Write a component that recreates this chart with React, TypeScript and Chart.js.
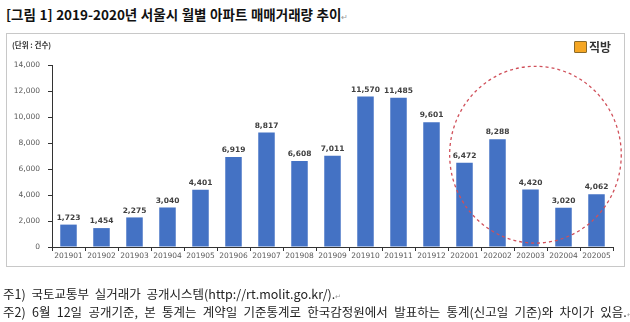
import React, { useEffect, useRef } from "react";
import { Chart, registerables } from "chart.js";

Chart.register(...registerables);

const categories = [
  "201901", "201902", "201903", "201904", "201905", "201906", "201907", "201908", "201909",
  "201910", "201911", "201912", "202001", "202002", "202003", "202004", "202005",
];
const transactions = [1723, 1454, 2275, 3040, 4401, 6919, 8817, 6608, 7011, 11570, 11485, 9601, 6472, 8288, 4420, 3020, 4062];
const yTicks = [0, 2000, 4000, 6000, 8000, 10000, 12000, 14000];

// highlight ellipse, expressed in data units
const highlightCenterIndex = 14.15;
const highlightHalfWidthCategories = 2.6;
const highlightTopValue = 13900;
const highlightBottomValue = 300;

const title = "[그림 1] 2019-2020년 서울시 월별 아파트 매매거래량 추이";
const unitLabel = "(단위 : 건수)";
const brand = "직방";
const note1 = "주1) 국토교통부 실거래가 공개시스템(http://rt.molit.go.kr/).";
const note2 = "주2) 6월 12일 공개기준, 본 통계는 계약일 기준통계로 한국감정원에서 발표하는 통계(신고일 기준)와 차이가 있음.";

const fmt = (v: number) => v.toLocaleString("en-US");

const valueLabels = {
  id: "valueLabels",
  afterDatasetsDraw(chart: any) {
    const ctx = chart.ctx;
    const meta = chart.getDatasetMeta(0);
    ctx.save();
    ctx.font = "bold 7.5px 'DejaVu Sans'";
    ctx.fillStyle = "#404040";
    ctx.textAlign = "center";
    ctx.textBaseline = "bottom";
    meta.data.forEach((bar: any, i: number) => {
      ctx.fillText(fmt(transactions[i]), bar.x, bar.y - 3);
    });
    ctx.restore();
  },
};

const highlight = {
  id: "highlight",
  afterDraw(chart: any) {
    const x = chart.scales.x;
    const y = chart.scales.y;
    const cx = x.getPixelForValue(highlightCenterIndex);
    const step = x.getPixelForValue(1) - x.getPixelForValue(0);
    const rx = step * highlightHalfWidthCategories;
    const top = y.getPixelForValue(highlightTopValue);
    const bottom = y.getPixelForValue(highlightBottomValue);
    const ry = (bottom - top) / 2;
    const ctx = chart.ctx;
    ctx.save();
    ctx.strokeStyle = "#D0505A";
    ctx.lineWidth = 1.3;
    ctx.setLineDash([3, 3]);
    ctx.beginPath();
    ctx.ellipse(cx, (top + bottom) / 2, rx, ry, 0, 0, Math.PI * 2);
    ctx.stroke();
    ctx.restore();
  },
};

export default function App() {
  const ref = useRef<HTMLCanvasElement>(null);
  useEffect(() => {
    const chart = new Chart(ref.current!, {
      type: "bar",
      data: {
        labels: categories,
        datasets: [
          {
            data: transactions,
            backgroundColor: "#4472C4",
            barPercentage: 0.5,
            categoryPercentage: 1,
          },
        ],
      },
      options: {
        animation: false,
        responsive: false,
        maintainAspectRatio: false,
        layout: { padding: { left: 0, right: 17, top: 65, bottom: 55 } },
        plugins: { legend: { display: false }, tooltip: { enabled: false } },
        scales: {
          x: {
            offset: true,
            grid: { display: true, offset: true, drawOnChartArea: false, tickLength: 4, color: "#333" },
            border: { color: "#333", width: 1 },
            ticks: { color: "#595959", font: { family: "DejaVu Sans", size: 7.5 }, padding: 1, maxRotation: 0, autoSkip: false },
            afterFit: (s: any) => { s.height = 20; },
          },
          y: {
            min: 0,
            max: 14000,
            afterBuildTicks: (s: any) => { s.ticks = yTicks.map((v) => ({ value: v })); },
            grid: { display: true, drawOnChartArea: false, tickLength: 4, color: "#333" },
            border: { color: "#333", width: 1 },
            ticks: { color: "#595959", font: { family: "DejaVu Sans", size: 7.5 }, padding: 8, callback: (v: any) => fmt(Number(v)) },
            afterFit: (s: any) => { s.width = 52; },
          },
        },
      },
      plugins: [valueLabels, highlight],
    });
    return () => chart.destroy();
  }, []);

  return (
    <div style={{ position: "absolute", left: 0, top: 0, width: 630, height: 322, background: "#fff", overflow: "hidden", fontFamily: "'Noto Sans CJK KR', sans-serif" }}>
      <div style={{ position: "absolute", left: 6, top: 4, fontSize: 13.5, fontWeight: 700, color: "#111", whiteSpace: "nowrap", wordSpacing: 0.5 }}>
        {title}<span style={{ fontSize: 8, color: "#999", fontWeight: 400 }}>↵</span>
      </div>
      <div style={{ position: "absolute", left: 6, top: 33, width: 617, height: 232, border: "1px solid #c8c8c8" }} />
      <canvas ref={ref} width={630} height={322} style={{ position: "absolute", left: 0, top: 0, width: 630, height: 322 }} />
      <div style={{ position: "absolute", left: 12, top: 39, fontSize: 7.5, fontWeight: 700, color: "#333", whiteSpace: "nowrap" }}>{unitLabel}</div>
      <div style={{ position: "absolute", left: 574, top: 38, display: "flex", alignItems: "center", whiteSpace: "nowrap" }}>
        <span style={{ display: "inline-block", width: 11, height: 10, background: "#F5A623", border: "1px solid #8a6a2a", borderRadius: 1, marginRight: 2 }} />
        <span style={{ fontSize: 12, fontWeight: 700, color: "#333" }}>{brand}</span>
      </div>
      <div style={{ position: "absolute", left: 3, top: 284, fontSize: 12.5, color: "#222", whiteSpace: "nowrap", wordSpacing: 3 }}>
        {note1}<span style={{ fontSize: 7, color: "#999" }}>↵</span>
      </div>
      <div style={{ position: "absolute", left: 3, top: 302, fontSize: 12.5, color: "#222", whiteSpace: "nowrap", wordSpacing: 3.5 }}>
        {note2}<span style={{ fontSize: 7, color: "#999" }}>↵</span>
      </div>
    </div>
  );
}
